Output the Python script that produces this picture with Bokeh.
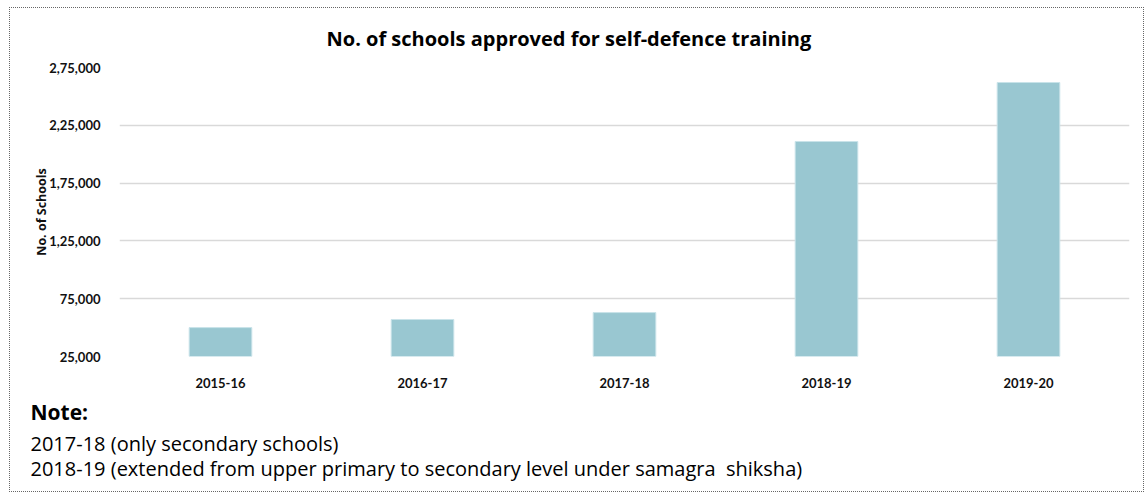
from bokeh.plotting import figure
from bokeh.models import Range1d, FixedTicker, FactorRange, Title
from bokeh.layouts import column
from bokeh.embed import file_html
from bokeh.resources import INLINE

# ---- data ----
years = ["2015-16", "2016-17", "2017-18", "2018-19", "2019-20"]
schools = [50000, 57000, 63000, 211000, 262000]
y_ticks = [25000, 75000, 125000, 175000, 225000, 275000]
y_tick_labels = ["25,000", "75,000", "1,25,000", "1,75,000", "2,25,000", "2,75,000"]
title_text = "No. of schools approved for self-defence training"
y_label = "No. of Schools"
note_head = "Note:"
note_lines = [
    "2017-18 (only secondary schools)",
    "2018-19 (extended from upper primary to secondary level under samagra\u00a0 shiksha)",
]

TICK_FONT = "Lato"
TEXT_FONT = "Open Sans"

p = figure(
    x_range=FactorRange(factors=years),
    y_range=Range1d(y_ticks[0], y_ticks[-1]),
    width=1133, height=483,
    output_backend="svg", toolbar_location=None,
    min_border_left=109, min_border_right=14,
    min_border_top=59, min_border_bottom=135,
)
p.outline_line_color = None
p.background_fill_color = "white"
p.border_fill_color = "white"

p.vbar(x=years, top=schools, bottom=y_ticks[0], width=0.31,
       fill_color="#99C7D1", line_color="#c9e3e9", line_width=1)

# axes
p.yaxis.ticker = FixedTicker(ticks=y_ticks)
p.yaxis.major_label_overrides = {t: l for t, l in zip(y_ticks, y_tick_labels)}
for ax in (p.xaxis[0], p.yaxis[0]):
    ax.axis_line_color = None
    ax.major_tick_line_color = None
    ax.minor_tick_line_color = None
    ax.major_label_text_font = TICK_FONT
    ax.major_label_text_font_style = "bold"
    ax.major_label_text_font_size = "13px"
    ax.major_label_text_color = "#111111"
p.yaxis.major_label_standoff = 13
p.xaxis.major_label_standoff = 15
p.yaxis.axis_label = y_label
p.yaxis.axis_label_text_font = TEXT_FONT
p.yaxis.axis_label_text_font_style = "bold"
p.yaxis.axis_label_text_font_size = "12.5px"
p.yaxis.axis_label_text_color = "#111111"
p.yaxis.axis_label_standoff = -4

p.xgrid.grid_line_color = None
p.ygrid.ticker = FixedTicker(ticks=y_ticks)
p.ygrid.grid_line_color = "#d9d9d9"
p.ygrid.grid_line_width = 1.5

# title
p.title.text = title_text
p.title.align = "left"
p.title.offset = 207
p.title.vertical_align = "top"
p.title.text_font = TEXT_FONT
p.title.text_font_style = "bold"
p.title.text_font_size = "20px"
p.title.text_color = "#000000"
p.title.standoff = 28

# notes as titles below the x axis
p.add_layout(Title(text=note_head, align="left", offset=-89, standoff=10,
                   text_font=TEXT_FONT, text_font_style="bold",
                   text_font_size="21px", text_color="#000000"), "below")
for line, so in zip(note_lines, [-6, -2]):
    p.add_layout(Title(text=line, align="left", offset=-89, standoff=so,
                       text_font=TEXT_FONT, text_font_style="normal",
                       text_font_size="20px", text_color="#000000"), "below")

layout = column(p, styles={"border": "1px dotted #666666",
                           "margin-left": "9px", "margin-top": "7px"})

with open("out.html", "w") as f:
    f.write(file_html(layout, INLINE))
